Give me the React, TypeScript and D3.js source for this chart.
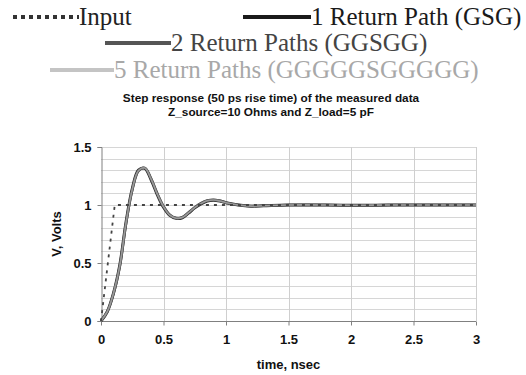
import { useEffect, useRef } from 'react'
import * as d3 from 'd3'

// time axis (ns) and measured step responses
const times = [0, 0.05, 0.1, 0.15, 0.2, 0.25, 0.3, 0.35, 0.4, 0.45, 0.5, 0.55, 0.6, 0.65, 0.7, 0.75, 0.8, 0.85, 0.9, 0.95, 1.0, 1.1, 1.2, 1.3, 1.5, 1.8, 2.0, 2.2, 2.4, 2.6, 2.8, 3.0]
const path1 = [0, 0.08, 0.24, 0.48, 0.85, 1.14, 1.3, 1.315, 1.22, 1.09, 0.98, 0.91, 0.885, 0.89, 0.93, 0.975, 1.01, 1.035, 1.042, 1.035, 1.02, 1.0, 0.99, 0.993, 1.0, 1.0, 0.997, 0.998, 1.0, 1.0, 1.0, 1.0]
const path2 = [0, 0.08, 0.235, 0.47, 0.84, 1.13, 1.295, 1.32, 1.23, 1.1, 0.99, 0.915, 0.888, 0.895, 0.935, 0.98, 1.015, 1.038, 1.044, 1.036, 1.02, 1.0, 0.99, 0.994, 1.0, 1.0, 0.996, 0.997, 1.0, 1.0, 1.0, 1.0]
const path5 = [0, 0.08, 0.24, 0.475, 0.845, 1.135, 1.298, 1.318, 1.225, 1.095, 0.985, 0.912, 0.886, 0.892, 0.932, 0.978, 1.012, 1.036, 1.043, 1.035, 1.02, 1.0, 0.99, 0.993, 1.0, 1.0, 0.998, 0.999, 1.0, 1.0, 1.0, 1.0]
const inputTimes = [0, 0.11, 3.0]
const inputValues = [0, 1, 1]

const xTicks = [0, 0.5, 1, 1.5, 2, 2.5, 3]
const yTicks = [0, 0.5, 1, 1.5]

export default function App() {
  const svgRef = useRef<SVGSVGElement | null>(null)
  const width = 526
  const height = 375

  useEffect(() => {
    if (!svgRef.current) return
    const svg = d3.select(svgRef.current)
    svg.selectAll('*').remove()

    const margin = { top: 147, right: 50, bottom: 54, left: 101 }
    const x = d3.scaleLinear().domain([0, 3]).range([margin.left, width - margin.right])
    const y = d3.scaleLinear().domain([0, 1.5]).range([height - margin.bottom, margin.top])

    svg.append('rect').attr('width', width).attr('height', height).attr('fill', '#fff')

    // grid
    const grid = svg.append('g')
    grid.selectAll('.hg')
      .data(d3.range(1, 16).map(i => i / 10))
      .join('line')
      .attr('x1', x(0)).attr('x2', x(3))
      .attr('y1', d => Math.round(y(d)) + 0.5).attr('y2', d => Math.round(y(d)) + 0.5)
      .attr('stroke', '#d6d6d6')
    grid.selectAll('.vg')
      .data(xTicks.slice(1))
      .join('line')
      .attr('x1', d => Math.round(x(d)) + 0.5).attr('x2', d => Math.round(x(d)) + 0.5)
      .attr('y1', y(1.5)).attr('y2', y(0))
      .attr('stroke', '#cfcfcf')

    const font = 'Liberation Sans, Arial, sans-serif'

    // axes
    const yAxis = svg.append('g')
      .attr('transform', `translate(${Math.round(x(0)) + 0.5},0)`)
      .call(d3.axisLeft(y).tickValues(yTicks).tickSize(4).tickPadding(6).tickFormat(d3.format('~g')))
    const xAxis = svg.append('g')
      .attr('transform', `translate(0,${Math.round(y(0)) + 0.5})`)
      .call(d3.axisBottom(x).tickValues(xTicks).tickSize(4).tickPadding(9).tickFormat(d3.format('~g')))
    for (const a of [xAxis, yAxis]) {
      a.select('.domain').attr('stroke', '#808080')
      a.selectAll('.tick line').attr('stroke', '#808080')
      a.selectAll('.tick text')
        .attr('fill', '#111')
        .style('font-family', font)
        .style('font-size', '13px')
        .style('font-weight', 'bold')
    }
    xAxis.select('.domain').attr('d', `M${x(0)},0H${x(3)}`)

    // series
    const line = d3.line<[number, number]>()
      .x(d => x(d[0]))
      .y(d => y(d[1]))
      .curve(d3.curveCatmullRom)
    const series = [
      { vals: path1, color: '#2a2a2a', w: 3 },
      { vals: path2, color: '#5a5a5a', w: 2.6 },
      { vals: path5, color: '#9a9a9a', w: 1.6 },
    ]
    series.forEach(s => {
      svg.append('path')
        .attr('d', line(times.map((t, i) => [t, s.vals[i]] as [number, number])))
        .attr('fill', 'none')
        .attr('stroke', s.color)
        .attr('stroke-width', s.w)
    })
    svg.append('path')
      .attr('d', d3.line<[number, number]>().x(d => x(d[0])).y(d => y(d[1]))(inputTimes.map((t, i) => [t, inputValues[i]] as [number, number])))
      .attr('fill', 'none')
      .attr('stroke', '#444')
      .attr('stroke-width', 1.8)
      .attr('stroke-dasharray', '3,5')

    // titles
    const title = svg.append('text')
      .attr('text-anchor', 'middle')
      .style('font-family', font)
      .style('font-size', '11.8px')
      .style('font-weight', 'bold')
      .attr('fill', '#111')
    title.append('tspan').attr('x', 271).attr('y', 102).text('Step response (50 ps rise time) of the measured data')
    title.append('tspan').attr('x', 271).attr('y', 116).text('Z_source=10 Ohms and Z_load=5 pF')

    svg.append('text')
      .attr('x', (x(0) + x(3)) / 2).attr('y', 369)
      .attr('text-anchor', 'middle')
      .style('font-family', font).style('font-size', '13px').style('font-weight', 'bold')
      .attr('fill', '#111')
      .text('time, nsec')
    svg.append('text')
      .attr('transform', `translate(61,${(y(0) + y(1.5)) / 2}) rotate(-90)`)
      .attr('text-anchor', 'middle')
      .style('font-family', font).style('font-size', '13px').style('font-weight', 'bold')
      .attr('fill', '#111')
      .text('V, Volts')

    // legend
    const legend = [
      { label: 'Input', x1: 13, x2: 79, y: 17, color: '#333', text: '#222', dash: '4,4' },
      { label: '1 Return Path (GSG)', x1: 243, x2: 311, y: 17, color: '#1a1a1a', text: '#1a1a1a', dash: null },
      { label: '2 Return Paths (GGSGG)', x1: 105, x2: 171, y: 43, color: '#555', text: '#444', dash: null },
      { label: '5 Return Paths (GGGGGSGGGGG)', x1: 50, x2: 114, y: 70, color: '#c4c4c4', text: '#a8a8a8', dash: null },
    ]
    legend.forEach(l => {
      svg.append('line')
        .attr('x1', l.x1).attr('x2', l.x2).attr('y1', l.y).attr('y2', l.y)
        .attr('stroke', l.color).attr('stroke-width', 4)
        .attr('stroke-dasharray', l.dash)
      svg.append('text')
        .attr('x', l.x2).attr('y', l.y + 8)
        .style('font-family', 'Liberation Serif, Times New Roman, serif')
        .style('font-size', '25px')
        .attr('fill', l.text)
        .text(l.label)
    })
  }, [])

  return (
    <svg ref={svgRef} width={width} height={height} style={{ position: 'absolute', left: 0, top: 0 }} />
  )
}
